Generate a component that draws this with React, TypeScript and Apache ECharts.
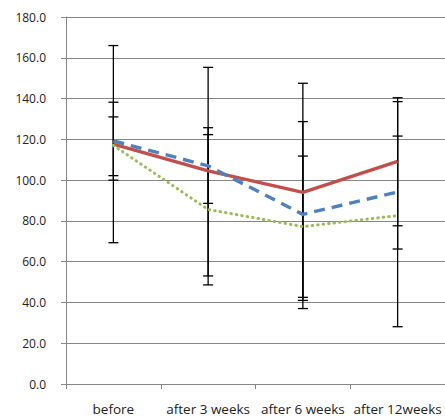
import React, { useEffect, useRef } from "react";
import * as echarts from "echarts";

const categories = ["before", "after 3 weeks", "after 6 weeks", "after 12weeks"];
const yTicks = [0, 20, 40, 60, 80, 100, 120, 140, 160, 180];

const redMean = [117.7, 104.5, 94.0, 109.2];
const redLow = [69.3, 53.0, 41.0, 77.6];
const redHigh = [166.0, 155.3, 147.5, 140.4];

const blueMean = [119.2, 107.0, 83.2, 94.2];
const blueLow = [100.0, 88.6, 37.0, 66.2];
const blueHigh = [138.2, 125.7, 128.7, 121.6];

const greenMean = [117.0, 85.6, 77.2, 82.6];
const greenLow = [102.2, 48.6, 42.5, 28.1];
const greenHigh = [131.0, 122.3, 111.8, 138.5];

function errorSeries(name: string, low: number[], high: number[]) {
  return {
    type: "custom",
    name,
    data: categories.map((_, i) => [i, low[i], high[i]]),
    z: 5,
    renderItem: (params: any, api: any) => {
      const x = api.value(0);
      const lo = api.coord([x, api.value(1)]);
      const hi = api.coord([x, api.value(2)]);
      const cap = 5;
      const style = { stroke: "#000000", lineWidth: 1.3 };
      return {
        type: "group",
        children: [
          { type: "line", shape: { x1: hi[0], y1: hi[1], x2: lo[0], y2: lo[1] }, style },
          { type: "line", shape: { x1: hi[0] - cap, y1: hi[1], x2: hi[0] + cap, y2: hi[1] }, style },
          { type: "line", shape: { x1: lo[0] - cap, y1: lo[1], x2: lo[0] + cap, y2: lo[1] }, style },
        ],
      };
    },
  };
}

export default function App() {
  const ref = useRef<HTMLDivElement>(null);
  useEffect(() => {
    if (!ref.current) return;
    const chart = echarts.init(ref.current, null, { renderer: "svg" });
    chart.setOption({
      animation: false,
      backgroundColor: "#ffffff",
      grid: { left: 66, top: 17, width: 383, height: 367, containLabel: false },
      xAxis: {
        type: "category",
        data: categories,
        boundaryGap: true,
        axisLine: { lineStyle: { color: "#868686", width: 1 } },
        axisTick: { show: true, alignWithLabel: false, length: 5, lineStyle: { color: "#868686" } },
        axisLabel: { color: "#222222", fontFamily: "Open Sans", fontSize: 13.5, margin: 18, interval: 0 },
        splitLine: { show: false },
      },
      yAxis: {
        type: "value",
        min: yTicks[0],
        max: yTicks[yTicks.length - 1],
        interval: 20,
        axisLine: { show: true, lineStyle: { color: "#868686", width: 1 } },
        axisTick: { show: true, length: 5, lineStyle: { color: "#868686" } },
        axisLabel: {
          color: "#222222",
          fontFamily: "Open Sans",
          fontSize: 12,
          margin: 20,
          formatter: (v: number) => v.toFixed(1),
        },
        splitLine: { show: true, lineStyle: { color: "#868686", width: 1 } },
      },
      series: [
        errorSeries("redErr", redLow, redHigh),
        errorSeries("blueErr", blueLow, blueHigh),
        errorSeries("greenErr", greenLow, greenHigh),
        {
          type: "line",
          name: "red",
          data: redMean,
          showSymbol: false,
          symbol: "none",
          z: 10,
          lineStyle: { color: "#C0504D", width: 3.4 },
        },
        {
          type: "line",
          name: "blue",
          data: blueMean,
          showSymbol: false,
          symbol: "none",
          z: 10,
          lineStyle: { color: "#4F81BD", width: 3.4, type: [11, 7] },
        },
        {
          type: "line",
          name: "green",
          data: greenMean,
          showSymbol: false,
          symbol: "none",
          z: 10,
          lineStyle: { color: "#9BBB59", width: 3, type: [0.5, 5], cap: "round" },
        },
      ],
    });
    return () => chart.dispose();
  }, []);
  return (
    <div
      ref={ref}
      style={{ position: "fixed", left: 0, top: 0, width: 445, height: 418, background: "#fff" }}
    />
  );
}
